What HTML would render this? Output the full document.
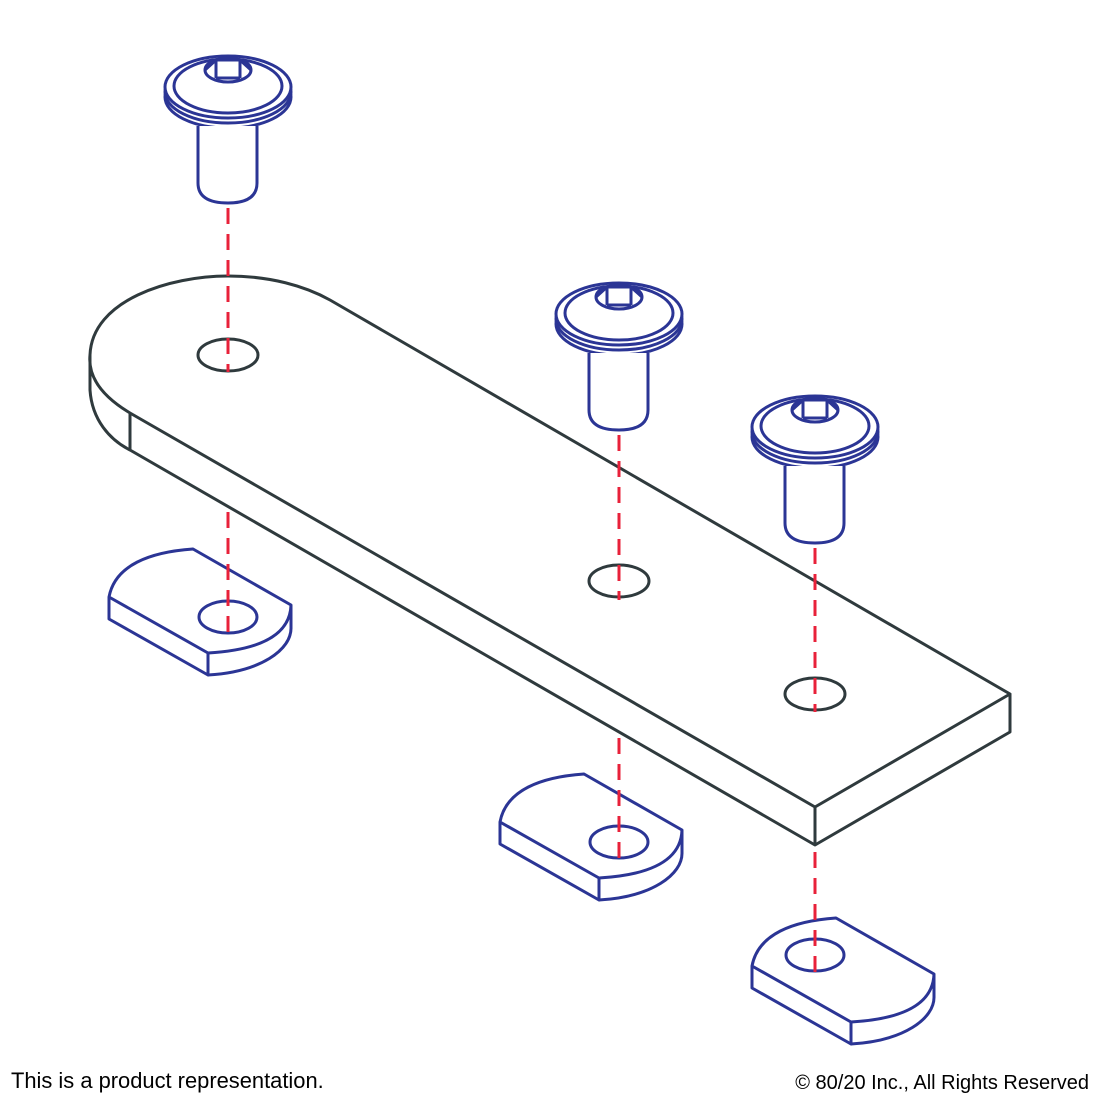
<!DOCTYPE html>
<html><head><style>body{margin:0;background:#fff}svg{display:block}</style></head><body>
<svg width="1100" height="1100" viewBox="0 0 1100 1100" xmlns="http://www.w3.org/2000/svg">
<defs>
<g id="screw" fill="none" stroke="#2b3595" stroke-width="3">
<ellipse cx="0" cy="9" rx="63" ry="31" fill="#fff"/>
<ellipse cx="0" cy="4" rx="63" ry="31" fill="#fff"/>
<ellipse cx="0" cy="-1" rx="63" ry="31" fill="#fff"/>
<ellipse cx="0" cy="-2" rx="54" ry="27"/>
<ellipse cx="0" cy="-18" rx="23" ry="12"/>
<path d="M-12,-28 V-10 M12,-28 V-10 M-12,-10 H12 M-12,-28 H12 M-23,-18 L-12,-28 M23,-18 L12,-28"/>
<path d="M-30,38 V95 Q-30,115 0,115 Q29,115 29,95 V38" fill="#fff"/>
</g>
<g id="nut" fill="none" stroke="#2b3595" stroke-width="3" stroke-linejoin="round">
<path d="M109,597 C115,565 150,552 193,549 L291,605 C290,635 260,650 208,653 Z" fill="#fff"/>
<path d="M109,597 V619 L208,675 V653 M208,675 C260,672 292,650 291,627 V605"/>
</g>
</defs>
<g fill="none" stroke="#2f3a3d" stroke-width="3" stroke-linejoin="round">
<path d="M130,413 C100,395 88,375 90,355 C92,300 170,276 228,276 C270,276 305,286 330,300 L1010,694 L815,807 Z"/>
<path d="M90,355 V390 C92,420 110,440 130,450 V413 M130,450 L815,845 L1010,732 V694 M815,807 V845"/>
<ellipse cx="228" cy="355" rx="30" ry="16"/>
<ellipse cx="619" cy="581" rx="30" ry="16"/>
<ellipse cx="815" cy="694" rx="30" ry="16"/>
</g>
<use href="#nut"/>
<use href="#nut" transform="translate(391,225)"/>
<use href="#nut" transform="translate(643,369)"/>
<g fill="none" stroke="#2b3595" stroke-width="3">
<ellipse cx="228" cy="617" rx="29" ry="16"/>
<ellipse cx="619" cy="842" rx="29" ry="16"/>
<ellipse cx="815" cy="955" rx="29" ry="16"/>
</g>
<use href="#screw" transform="translate(228,88)"/>
<use href="#screw" transform="translate(619,315)"/>
<use href="#screw" transform="translate(815,428)"/>
<g stroke="#e8213a" stroke-width="3" stroke-dasharray="16,10">
<path d="M228,208 V372 M228,512 V632 M619,435 V600 M619,738 V860 M815,548 V712 M815,852 V972"/>
</g>
<text x="11" y="1088" font-family="Liberation Sans, sans-serif" font-size="21.9" fill="#000">This is a product representation.</text>
<text x="1089" y="1089" text-anchor="end" font-family="Liberation Sans, sans-serif" font-size="20" fill="#000">© 80/20 Inc., All Rights Reserved</text>
</svg>
</body></html>
